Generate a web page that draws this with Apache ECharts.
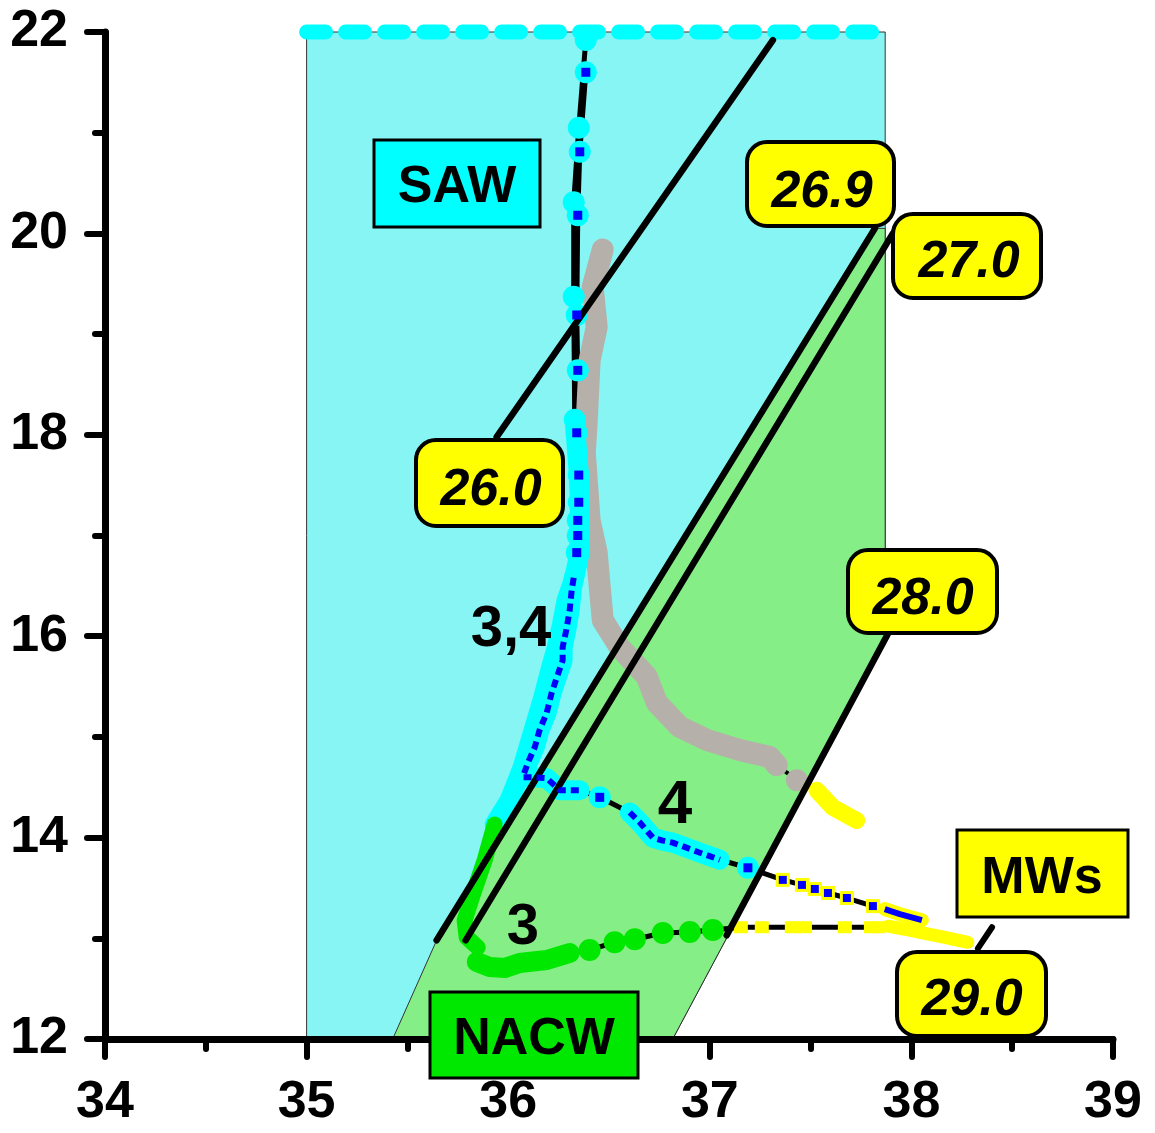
<!DOCTYPE html>
<html><head><meta charset="utf-8">
<script src="https://cdn.jsdelivr.net/npm/echarts@6/dist/echarts.min.js"></script>
<style>html,body{margin:0;padding:0;background:#fff}#c{width:1155px;height:1133px}</style>
</head><body><div id="c"></div>
<script>
// ---- axes ----
const xRange = [34, 39];
const yRange = [12, 22];

// ---- water-mass domains (salinity, temperature) ----
const sawPoly = [[35.0,12],[36.816,12],[37.87,15.95],[37.87,22],[35.0,22]];
const nacwPoly = [[35.427,12],[35.645,12.98],[37.819,20.05],[37.87,20.05],[37.87,15.95],[36.816,12]];
const sawTop = [[35.0,22],[37.87,22]];

// ---- isopycnals ----
const sig260 = [[35.943,17.98],[37.313,21.92]];
const sig269 = [[35.645,12.98],[37.819,20.05]];
const sig270 = [[35.789,12.98],[37.908,20.0]];
const sig280 = [[37.084,13.03],[37.893,16.06]];
const sig290 = [[38.40,13.11],[38.33,12.90]];

// ---- station 3 ----
const st3Sparse = [[36.385,21.92],[36.350,21.05],[36.325,20.31],[36.325,19.37],[36.330,18.15]];
const st3CyanBand = [[36.330,18.15],[36.340,17.88],[36.350,17.62],[36.355,17.38],[36.355,17.15],[36.355,16.98],[36.355,16.83],[36.325,16.56],[36.290,16.36],[36.266,16.11],[36.241,15.89],[36.206,15.64],[36.171,15.37],[36.122,15.04],[36.072,14.70],[36.007,14.37],[35.933,14.13]];
const st3GreenBand = [[35.933,14.13],[35.884,13.78],[35.824,13.43],[35.784,13.18],[35.794,13.01],[35.849,12.91]];
const st3GreenBand2 = [[35.844,12.765],[35.908,12.715],[35.983,12.705],[36.057,12.755],[36.191,12.785],[36.305,12.854]];
const st3GreenDots = [[36.404,12.884],[36.528,12.96],[36.628,12.99],[36.767,13.053],[36.901,13.063],[37.015,13.082]];
const st3YellowDots = [[37.154,13.11],[37.258,13.11],[37.407,13.11],[37.472,13.11],[37.670,13.11],[37.799,13.11],[37.839,13.11]];
const st3YellowTail = [[37.884,13.12],[37.968,13.09],[38.067,13.05],[38.166,13.01],[38.280,12.96]];

// ---- station 4 ----
const st4Sparse = [[36.385,21.60],[36.355,20.81],[36.345,20.18],[36.340,19.19],[36.345,18.64],[36.340,18.02],[36.350,17.60],[36.350,17.33],[36.345,17.15],[36.345,17.00],[36.340,16.83]];
const st4Dense = [[36.325,16.58],[36.315,16.46],[36.305,16.26],[36.290,16.08],[36.270,15.89],[36.270,15.76],[36.241,15.59],[36.216,15.44],[36.191,15.24],[36.156,15.07],[36.132,14.90],[36.097,14.74],[36.072,14.60],[36.122,14.60],[36.191,14.59],[36.256,14.47],[36.355,14.47]];
const st4Mid = [[36.454,14.40]];
const st4Dense2 = [[36.603,14.25],[36.653,14.15],[36.717,14.00],[36.767,13.97],[36.816,13.95],[36.884,13.90],[36.951,13.85],[37.050,13.78]];
const st4Mid2 = [[37.189,13.70]];
const st4YellowSq = [[37.362,13.58],[37.457,13.53],[37.521,13.49],[37.586,13.45],[37.680,13.40],[37.809,13.32]];
const st4YellowBand = [[37.868,13.29],[37.943,13.24],[38.052,13.18]];

// ---- grey station ----
const grayBand = [[36.469,19.84],[36.419,19.47],[36.439,19.07],[36.404,18.74],[36.390,18.15],[36.380,17.82],[36.404,17.15],[36.439,16.83],[36.454,16.49],[36.469,16.16],[36.553,15.89],[36.687,15.60],[36.737,15.34],[36.851,15.10],[36.985,14.97],[37.149,14.87],[37.298,14.80],[37.332,14.72]];
const grayDot = [[37.432,14.57]];
const grayYellow = [[37.531,14.47],[37.610,14.30],[37.729,14.17]];

// ---- colours ----
const C_SAW = '#88f5f5', C_NACW = '#86ee86', CYAN = '#00ffff', GREEN = '#00e800',
      YEL = '#ffff00', BLUE = '#0000ff', GREY = '#b5b1aa';

const FONT = '"Liberation Sans", Arial, sans-serif';

function poly(points, fill, z) {
  return {type:'custom', coordinateSystem:'cartesian2d', z, silent:true, data:[points[0]],
    renderItem:(params, api) => ({type:'polygon', shape:{points:points.map(p => api.coord(p))},
      style:{fill, stroke:'#333', lineWidth:1}})};
}
function line(data, color, width, z, extra) {
  return Object.assign({type:'line', data, z, symbol:'none', silent:true, clip:false, smooth:false,
    lineStyle:{color, width, cap:'round', join:'round'}}, extra || {});
}
function dots(data, color, size, z, symbol, itemExtra) {
  return {type:'scatter', data, z, silent:true, clip:false, symbol:symbol || 'circle', symbolSize:size,
    itemStyle:Object.assign({color, opacity:1}, itemExtra || {})};
}

const st3All = [...st3Sparse, ...st3CyanBand.slice(1), ...st3GreenBand.slice(1), ...st3GreenBand2, ...st3GreenDots, ...st3YellowDots, ...st3YellowTail];
const st4All = [...st4Sparse, ...st4Dense, ...st4Mid, ...st4Dense2, ...st4Mid2, ...st4YellowSq, ...st4YellowBand];
const grayAll = [...grayBand, ...grayDot, ...grayYellow];

const series = [
  poly(sawPoly, C_SAW, 1),
  poly(nacwPoly, C_NACW, 2),
  line(sawTop, CYAN, 15, 3, {lineStyle:{color:CYAN, width:15, cap:'round', type:[19,20]}}),
  // black connecting profiles
  line(grayAll, '#000', 4, 4),
  line(st3All, '#000', 5, 4),
  line(st4All, '#000', 5, 4),
  // grey station
  line(grayBand, GREY, 22, 5),
  dots(grayDot, GREY, 22, 5),
  line(grayYellow, YEL, 17, 5),
  // station 3
  dots(st3Sparse, CYAN, 22, 6),
  line(st3CyanBand, CYAN, 20, 6),
  line(st3GreenBand, GREEN, 16, 6),
  line(st3GreenBand2, GREEN, 20, 6),
  dots(st3GreenDots, GREEN, 22, 6),
  dots(st3YellowDots, YEL, [14,12], 6, 'rect'),
  line(st3YellowTail, YEL, 13, 6),
  // station 4 halos
  dots(st4Sparse, CYAN, 22, 7),
  line(st4Dense, CYAN, 20, 7),
  dots(st4Mid, CYAN, 22, 7),
  line(st4Dense2, CYAN, 20, 7),
  dots(st4Mid2, CYAN, 22, 7),
  dots(st4YellowSq, YEL, 14, 7, 'rect'),
  line(st4YellowBand, YEL, 14, 7),
  // isopycnals
  line(sig260, '#000', 6.5, 8),
  line(sig269, '#000', 6.5, 8),
  line(sig270, '#000', 6.5, 8),
  line(sig280, '#000', 6.5, 8),
  line(sig290, '#000', 6, 8),
  // station 4 blue marks
  dots(st4Sparse, BLUE, 9, 9, 'rect'),
  line(st4Dense, BLUE, 6, 9, {lineStyle:{color:BLUE, width:6, type:[8,5]}}),
  dots(st4Mid, BLUE, 9, 9, 'rect'),
  line(st4Dense2, BLUE, 6, 9, {lineStyle:{color:BLUE, width:6, type:[8,5]}}),
  dots(st4Mid2, BLUE, 9, 9, 'rect'),
  dots(st4YellowSq, BLUE, 8, 9, 'rect'),
  line(st4YellowBand, BLUE, 6, 9, {lineStyle:{color:BLUE, width:6, cap:'butt'}})
];

function box(x, y, w, h, fill, r, lw) {
  return {type:'rect', z:100, silent:true, shape:{x, y, width:w, height:h, r:r || 0},
    style:{fill, stroke:'#000', lineWidth:lw || 3}};
}
function txt(x, y, t, size, italic) {
  return {type:'text', z:101, silent:true, x, y,
    style:{text:t, font:(italic ? 'italic ' : '') + 'bold ' + size + 'px ' + FONT, fill:'#000', align:'center', verticalAlign:'middle'}};
}

const graphic = [
  box(374,140,166,87,CYAN,0,3), txt(457,188,'SAW',52),
  box(430,992,208,86,GREEN,0,3), txt(534,1040,'NACW',52),
  box(957,830,171,87,YEL,0,3), txt(1042,879,'MWs',52),
  box(416,440,147,86,YEL,20,4), txt(491,491,'26.0',52,true),
  box(747,142,147,84,YEL,20,4), txt(822,193,'26.9',52,true),
  box(893,214,148,84,YEL,20,4), txt(969,263,'27.0',52,true),
  box(848,550,149,83,YEL,20,4), txt(923,600,'28.0',52,true),
  box(897,952,149,84,YEL,20,4), txt(972,1001,'29.0',52,true),
  txt(511,630,'3,4',58), txt(675,806,'4',62), txt(523,928,'3',58)
];

const axisCommon = {
  type:'value', z:50,
  axisLine:{show:true, onZero:false, lineStyle:{color:'#000', width:7, cap:'round'}},
  axisTick:{show:true, length:18, lineStyle:{color:'#000', width:6, cap:'round'}},
  minorTick:{show:true, splitNumber:2, length:10, lineStyle:{color:'#000', width:6, cap:'round'}},
  splitLine:{show:false}, minorSplitLine:{show:false}
};

const chart = echarts.init(document.getElementById('c'), null, {renderer:'canvas'});
chart.setOption({
  animation:false,
  backgroundColor:'#fff',
  grid:{left:105, top:32, right:42, bottom:94, containLabel:false},
  xAxis:Object.assign({}, axisCommon, {min:xRange[0], max:xRange[1], interval:1,
    axisLabel:{fontSize:52, fontWeight:'bold', fontFamily:FONT, color:'#000', margin:38}}),
  yAxis:Object.assign({}, axisCommon, {min:yRange[0], max:yRange[1], interval:2,
    axisLabel:{fontSize:52, fontWeight:'bold', fontFamily:FONT, color:'#000', margin:37}}),
  series,
  graphic
});
</script></body></html>
